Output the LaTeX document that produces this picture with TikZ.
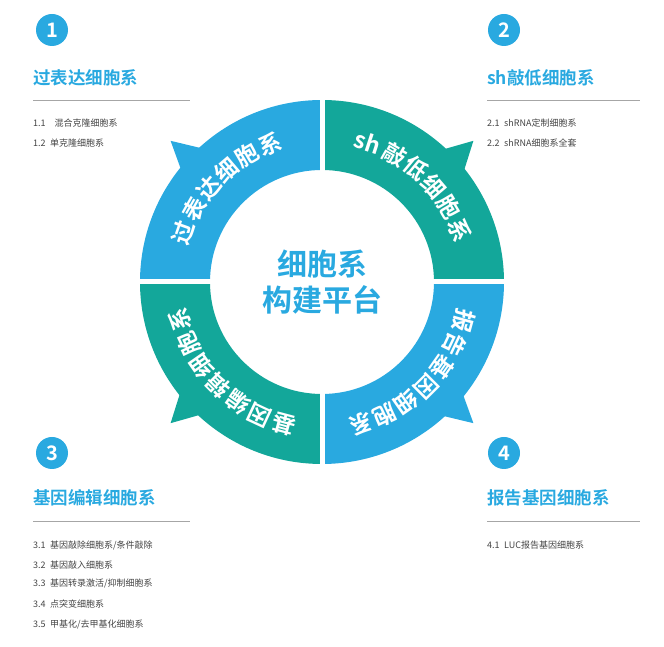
\documentclass[tikz,border=0pt]{standalone}
\usepackage{fontspec}
\usetikzlibrary{calc}
\setmainfont{Noto Sans CJK SC}
\newfontfamily\cjkb{Noto Sans CJK SC Bold}
\definecolor{bl}{HTML}{29A9E0}
\definecolor{tl}{HTML}{13A79A}
\definecolor{gt}{HTML}{444444}
\begin{document}
\begin{tikzpicture}[x=1pt,y=1pt,
 numc/.style={circle,fill=bl,minimum size=32pt,inner sep=0pt,text=white,font=\cjkb\fontsize{20}{20}\selectfont},
 ttl/.style={anchor=west,text=bl,font=\cjkb\fontsize{17.5}{18}\selectfont,inner sep=0pt},
 itm/.style={anchor=west,text=gt,font=\fontsize{9}{9}\selectfont,inner sep=0pt},
 rc/.style={text=white,font=\cjkb\fontsize{23}{23}\selectfont,inner sep=0pt}]
\useasboundingbox (0,0) rectangle (664,647);
\coordinate (c) at (322,365);
% quadrants
\foreach \a/\col in {90/bl,0/tl,-90/bl,-180/tl}{
 \fill[\col] ($(c)+(\a:182)$) arc[start angle=\a,end angle=\a+90,radius=182] -- ($(c)+(\a+90:112)$) arc[start angle=\a+90,end angle=\a,radius=112] -- cycle;
}
% spikes
\foreach \m/\col in {137/bl,43/tl,-43/bl,-137/tl}{
 \fill[\col] ($(c)+(\m+4.5:180)$) -- ($(c)+(\m:207)$) -- ($(c)+(\m-5:180)$) -- cycle;
}
\draw[white,line width=5pt] ($(c)+(0,-215)$) -- ($(c)+(0,215)$);
\draw[white,line width=5pt] ($(c)+(-215,0)$) -- ($(c)+(215,0)$);
% ring text
\foreach \t [count=\i] in {过,表,达,细,胞,系}{
 \pgfmathsetmacro\ang{160.5-10*(\i-1)}
 \node[rc,rotate=\ang-90] (tl\i) at ($(c)+(\ang:147)$) {\t};}
\foreach \t/\ang [count=\i] in {sh/72,敲/60.5,低/50.5,细/40.5,胞/30.5,系/20.5}{
 \node[rc,rotate=\ang-90] (tr\i) at ($(c)+(\ang:147)$) {\t};}
\foreach \t [count=\i] in {报,告,基,因,细,胞,系}{
 \pgfmathsetmacro\ang{-15.4-9.9*(\i-1)}
 \node[rc,rotate=\ang-90] (br\i) at ($(c)+(\ang:147)$) {\t};}
\foreach \t [count=\i] in {基,因,编,辑,细,胞,系}{
 \pgfmathsetmacro\ang{-105-10*(\i-1)}
 \node[rc,rotate=\ang-90] (bl\i) at ($(c)+(\ang:147)$) {\t};}
\node[text=bl,font=\cjkb\fontsize{30}{36}\selectfont,align=center] (ctr) at (c) {细胞系\\构建平台};
% corners
\node[numc] (n1) at (52,617) {1};
\node[numc] (n2) at (504,617) {2};
\node[numc] (n3) at (52,194) {3};
\node[numc] (n4) at (504,194) {4};
\node[ttl] (t1) at (33,569) {过表达细胞系};
\node[ttl] (t2) at (487,569) {sh敲低细胞系};
\node[ttl] (t3) at (33,149) {基因编辑细胞系};
\node[ttl] (t4) at (487,149) {报告基因细胞系};
\draw[gray!70,line width=0.8pt] (33,547) -- (190,547);
\draw[gray!70,line width=0.8pt] (487,547) -- (640,547);
\draw[gray!70,line width=0.8pt] (33,126) -- (190,126);
\draw[gray!70,line width=0.8pt] (487,126) -- (640,126);
\node[itm] at (33,524) {1.1\quad 混合克隆细胞系};
\node[itm] at (33,504) {1.2\enspace 单克隆细胞系};
\node[itm] at (487,524) {2.1\enspace shRNA定制细胞系};
\node[itm] at (487,504) {2.2\enspace shRNA细胞系全套};
\node[itm] at (33,102) {3.1\enspace 基因敲除细胞系/条件敲除};
\node[itm] at (33,82) {3.2\enspace 基因敲入细胞系};
\node[itm] at (33,63) {3.3\enspace 基因转录激活/抑制细胞系};
\node[itm] at (33,43) {3.4\enspace 点突变细胞系};
\node[itm] at (33,22) {3.5\enspace 甲基化/去甲基化细胞系};
\node[itm] at (487,102) {4.1\enspace LUC报告基因细胞系};
\end{tikzpicture}
\end{document}
